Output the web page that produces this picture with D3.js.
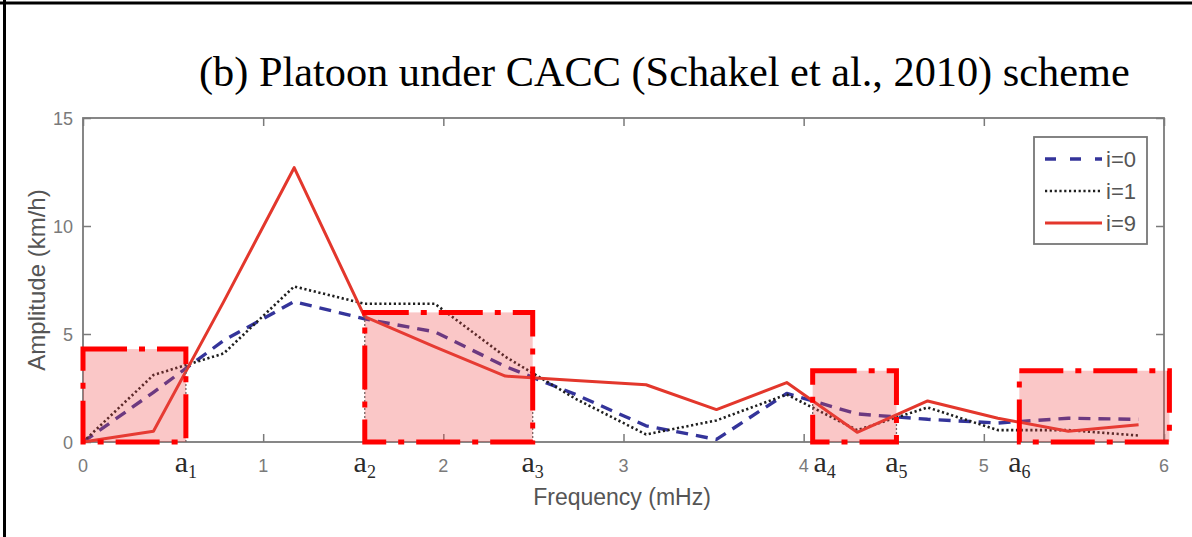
<!DOCTYPE html>
<html><head><meta charset="utf-8">
<script src="https://cdn.jsdelivr.net/npm/d3@7/dist/d3.min.js"></script>
<style>body{margin:0;background:#fff} svg{display:block}</style>
</head><body>
<svg id="c" width="1192" height="537"></svg>
<script>
// ---- data ----
const freq   = [0, 0.391, 0.781, 1.172, 1.563, 1.953, 2.344, 2.734, 3.125, 3.516, 3.906, 4.297, 4.688, 5.078, 5.469, 5.859];
const ampI0  = [0, 2.3, 4.7, 6.5, 5.7, 5.1, 3.5, 2.2, 0.75, 0.12, 2.25, 1.3, 1.05, 0.88, 1.1, 1.05];
const ampI1  = [0, 3.1, 4.1, 7.2, 6.4, 6.4, 3.95, 2.0, 0.35, 1.0, 2.2, 0.55, 1.6, 0.55, 0.55, 0.3];
const ampI9  = [0, 0.5, 6.5, 12.7, 5.8, 4.4, 3.05, 2.85, 2.65, 1.5, 2.75, 0.45, 1.9, 1.1, 0.5, 0.8];
const seriesNames = ["i=0", "i=1", "i=9"];
const xTicks = [0, 1, 2, 3, 4, 5, 6];
const yTicks = [0, 5, 10, 15];
const aFreq  = [0.571, 1.564, 2.496, 4.05, 4.515, 5.197];
const aNames = ["1", "2", "3", "4", "5", "6"];
const aCurve = [3.5, 5.9, 3.0, 1.8, 1.25, 0.95];
const boxStart = [0, 1.564, 4.05, 5.197];
const boxEnd   = [0.571, 2.496, 4.515, 6.03];
const boxTop   = [4.3, 6.0, 3.3, 3.3];
const titleText = "(b) Platoon under CACC (Schakel et al., 2010) scheme";
const xLabel = "Frequency (mHz)";
const yLabel = "Amplitude (km/h)";

// ---- drawing ----
const svg = d3.select("#c");
const x = d3.scaleLinear().domain([0, 6]).range([83, 1164]);
const y = d3.scaleLinear().domain([0, 15]).range([442, 118]);
const sans = "'Liberation Sans', Arial, sans-serif";
const serif = "'Liberation Serif', 'Times New Roman', serif";

// outer frame lines
svg.append("line").attr("x1", 4.5).attr("x2", 4.5).attr("y1", 0).attr("y2", 537)
  .attr("stroke", "#000").attr("stroke-width", 3);
svg.append("line").attr("x1", 0).attr("x2", 1192).attr("y1", 3).attr("y2", 3)
  .attr("stroke", "#000").attr("stroke-width", 3);

// title
const title = svg.append("text").attr("x", 199).attr("y", 86)
  .attr("font-family", serif).attr("font-size", 36).attr("fill", "#000").text(titleText);
const tw = title.node().getComputedTextLength();
title.attr("font-size", 36 * 931 / tw);

// axes frame
const axisCol = "#7a7a7a";
const g = svg.append("g");
g.append("rect").attr("x", x(0)).attr("y", y(15)).attr("width", x(6) - x(0)).attr("height", y(0) - y(15))
  .attr("fill", "none").attr("stroke", axisCol).attr("stroke-width", 1.8);

const xAxB = d3.axisBottom(x).tickValues(xTicks).tickSizeInner(-8).tickSizeOuter(0).tickFormat("");
const xAxT = d3.axisTop(x).tickValues(xTicks).tickSizeInner(-8).tickSizeOuter(0).tickFormat("");
const yAxL = d3.axisLeft(y).tickValues(yTicks).tickSizeInner(-8).tickSizeOuter(0).tickFormat("");
const yAxR = d3.axisRight(y).tickValues(yTicks).tickSizeInner(-8).tickSizeOuter(0).tickFormat("");
[[xAxB, `translate(0,${y(0)})`], [xAxT, `translate(0,${y(15)})`], [yAxL, `translate(${x(0)},0)`], [yAxR, `translate(${x(6)},0)`]]
  .forEach(([ax, tr]) => {
    const a = g.append("g").attr("transform", tr).call(ax);
    a.select(".domain").remove();
    a.selectAll("line").attr("stroke", axisCol).attr("stroke-width", 1.5);
  });

// tick labels
g.selectAll(".xtl").data(xTicks).enter().append("text")
  .attr("x", d => x(d)).attr("y", 472).attr("text-anchor", "middle")
  .attr("font-family", sans).attr("font-size", 18).attr("fill", "#7a7a7a")
  .text(d => d);
g.selectAll(".ytl").data(yTicks).enter().append("text")
  .attr("x", 73).attr("y", d => y(d) + 6.5).attr("text-anchor", "end")
  .attr("font-family", sans).attr("font-size", 18).attr("fill", "#7a7a7a")
  .text(d => d);

// axis labels
svg.append("text").attr("x", 622).attr("y", 505).attr("text-anchor", "middle")
  .attr("font-family", sans).attr("font-size", 23).attr("fill", "#555")
  .text(xLabel);
svg.append("text").attr("transform", "translate(45,280) rotate(-90)").attr("text-anchor", "middle")
  .attr("font-family", sans).attr("font-size", 24).attr("fill", "#555")
  .text(yLabel);

// series
const line = d3.line().x((d, i) => x(freq[i])).y(d => y(d));
const styles = [
  {data: ampI0, stroke: "#34349a", width: 3.4, dash: "12,8"},
  {data: ampI1, stroke: "#1e1e1e", width: 2.6, dash: "2.2,2.6"},
  {data: ampI9, stroke: "#e3372c", width: 3, dash: null}
];
styles.forEach(s => {
  svg.append("path").datum(s.data).attr("d", line).attr("fill", "none")
    .attr("stroke", s.stroke).attr("stroke-width", s.width)
    .attr("stroke-dasharray", s.dash).attr("stroke-linejoin", "round");
});

// a-marker dotted verticals
svg.selectAll(".av").data(aFreq).enter().append("line")
  .attr("x1", d => x(d)).attr("x2", d => x(d)).attr("y1", y(0)).attr("y2", (d, i) => y(aCurve[i]))
  .attr("stroke", "#666").attr("stroke-width", 1.3).attr("stroke-dasharray", "2,2");

// highlighted boxes
boxStart.forEach((b, i) => {
  svg.append("rect").attr("x", x(b)).attr("y", y(boxTop[i]))
    .attr("width", x(boxEnd[i]) - x(b)).attr("height", y(0) - y(boxTop[i]))
    .attr("fill", "rgb(240,70,70)").attr("fill-opacity", 0.3)
    .attr("stroke", "#ff0000").attr("stroke-width", 5)
    .attr("stroke-dasharray", "44,12,6,12");
});

// a labels
const aLab = svg.selectAll(".al").data(aFreq).enter().append("text")
  .attr("x", (d, i) => x(d) + (i === 3 ? 12 : 0)).attr("y", 472).attr("text-anchor", "middle")
  .attr("font-family", serif).attr("fill", "#2a2a2a");
aLab.append("tspan").attr("font-size", 30).text("a");
aLab.append("tspan").attr("font-size", 18).attr("dy", 6).text((d, i) => aNames[i]);

// legend
const lg = svg.append("g");
lg.append("rect").attr("x", 1034).attr("y", 137).attr("width", 113).attr("height", 107)
  .attr("fill", "#fff").attr("stroke", "#777").attr("stroke-width", 1.8);
styles.forEach((s, i) => {
  const yy = 159 + i * 32;
  lg.append("line").attr("x1", 1045).attr("x2", 1102).attr("y1", yy).attr("y2", yy)
    .attr("stroke", s.stroke).attr("stroke-width", s.width).attr("stroke-dasharray", i === 0 ? "11,14" : s.dash);
  lg.append("text").attr("x", 1106).attr("y", yy + 8)
    .attr("font-family", sans).attr("font-size", 22).attr("fill", "#555")
    .text(seriesNames[i]);
});
</script>
</body></html>
